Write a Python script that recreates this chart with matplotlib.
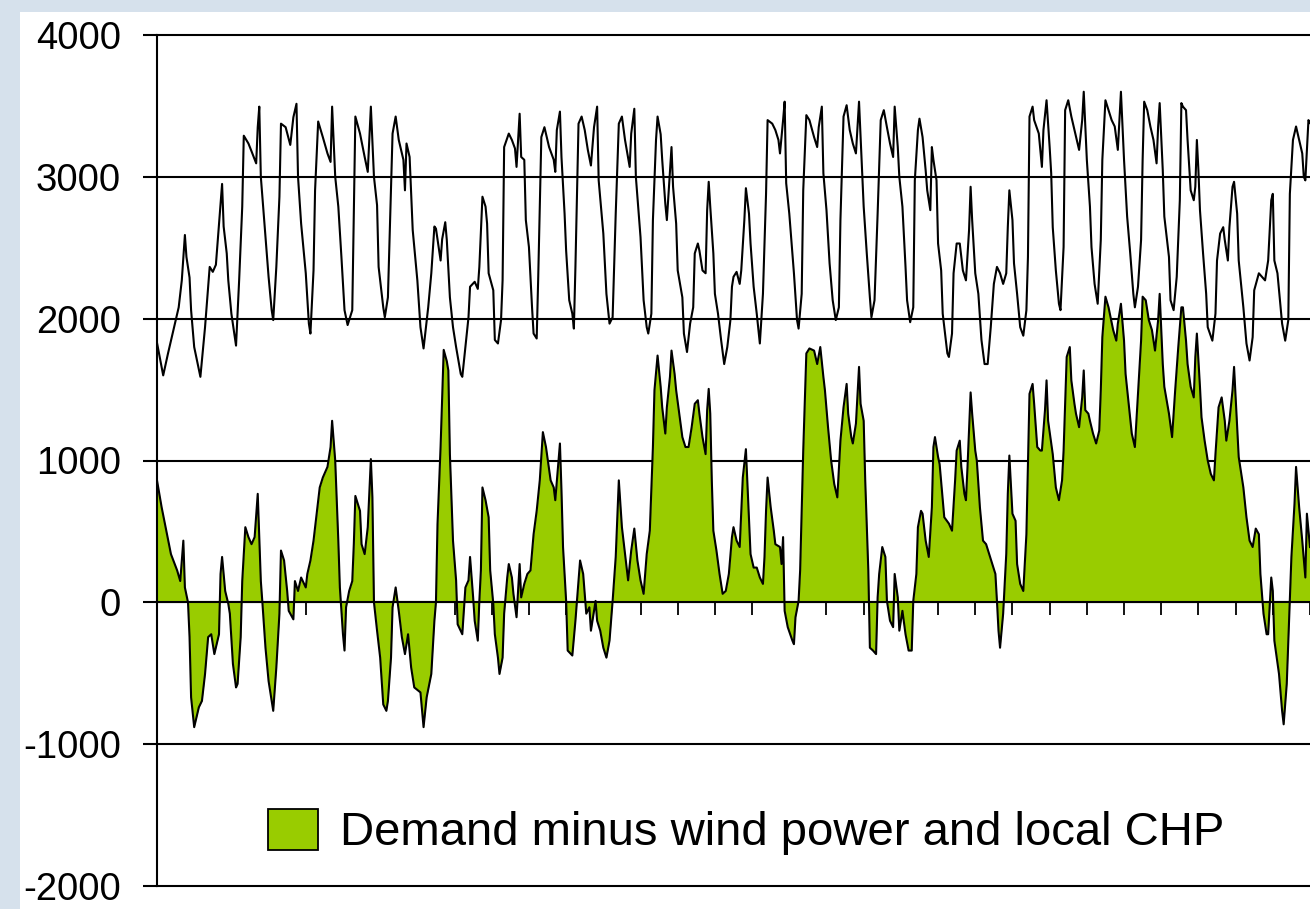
import numpy as np
import matplotlib
matplotlib.use("Agg")
import matplotlib.pyplot as plt
from matplotlib.patches import Patch, Rectangle

plt.rcParams["font.family"] = ["Liberation Sans", "DejaVu Sans"]
plt.rcParams["axes.unicode_minus"] = False

# ----------------------------------------------------------------------------
# readings: hour of the month (0..744) and MW
# ----------------------------------------------------------------------------
demand_h = [
    0, 4, 7, 11, 14, 16, 18, 19, 21, 22, 24, 28, 31, 33, 34, 36, 38, 41, 42, 43,
    45, 46, 48, 51, 53, 55, 56, 59, 61, 64, 65, 66, 67, 70, 72, 74, 75, 77, 79, 80,
    83, 86, 88, 90, 91, 93, 96, 98, 99, 101, 102, 104, 107, 110, 112, 113, 115, 117, 119, 121,
    123, 126, 127, 128, 131, 134, 136, 138, 140, 142, 143, 146, 147, 149, 151, 152, 154, 156, 159, 160,
    161, 163, 165, 168, 170, 172, 175, 177, 179, 180, 183, 184, 186, 187, 189, 191, 193, 196, 197, 199,
    201, 202, 205, 207, 208, 210, 212, 213, 214, 217, 218, 220, 222, 223, 224, 227, 229, 231, 232, 234,
    235, 237, 238, 240, 242, 243, 245, 246, 248, 250, 253, 256, 257, 258, 260, 261, 263, 264, 266, 268,
    269, 270, 272, 274, 276, 278, 280, 282, 284, 285, 288, 290, 292, 294, 296, 298, 300, 302, 305, 306,
    308, 309, 312, 314, 316, 317, 319, 320, 322, 323, 325, 326, 328, 329, 331, 332, 333, 335, 336, 339,
    340, 342, 344, 346, 347, 349, 350, 352, 354, 355, 356, 357, 359, 360, 362, 364, 366, 368, 370, 371,
    372, 374, 376, 377, 379, 380, 382, 383, 385, 387, 389, 391, 393, 394, 397, 399, 401, 402, 404, 405,
    406, 408, 411, 413, 414, 416, 417, 419, 421, 424, 426, 427, 429, 430, 432, 434, 436, 438, 440, 441,
    443, 445, 447, 449, 451, 452, 453, 455, 456, 458, 460, 461, 463, 465, 467, 469, 471, 473, 475, 476,
    478, 479, 481, 483, 484, 486, 488, 489, 491, 492, 494, 496, 497, 499, 500, 501, 503, 504, 506, 507,
    510, 511, 513, 514, 516, 518, 520, 522, 524, 525, 526, 528, 530, 532, 534, 536, 538, 540, 542, 544,
    546, 548, 549, 550, 552, 553, 555, 557, 559, 561, 562, 563, 565, 566, 569, 571, 572, 574, 576, 577,
    578, 580, 582, 583, 585, 586, 588, 590, 592, 595, 597, 598, 600, 602, 603, 605, 607, 609, 610, 612,
    614, 616, 618, 620, 621, 622, 624, 626, 628, 630, 631, 633, 635, 636, 637, 639, 641, 643, 645, 646,
    647, 649, 650, 653, 654, 656, 658, 660, 661, 662, 664, 665, 667, 669, 670, 671, 672, 673, 675, 677,
    678, 681, 683, 684, 686, 688, 689, 691, 692, 694, 695, 697, 698, 701, 703, 705, 707, 708, 711, 713,
    715, 717, 719, 720, 721, 723, 725, 726, 728, 730, 731, 733, 735, 737, 739, 740, 741, 743, 744,
]
demand_mw = [
    1830, 1600, 1750, 1940, 2080, 2270, 2590, 2435, 2290, 2060, 1800, 1590, 1940, 2220, 2365, 2330, 2380, 2810, 2950, 2650,
    2460, 2270, 2035, 1810, 2270, 2790, 3290, 3235, 3180, 3095, 3350, 3495, 3000, 2575, 2295, 2060, 1990, 2365, 2860, 3375,
    3350, 3225, 3420, 3515, 3000, 2670, 2320, 1965, 1895, 2340, 2905, 3390, 3280, 3165, 3105, 3495, 3000, 2790, 2435, 2060,
    1955, 2060, 2740, 3425, 3305, 3140, 3035, 3495, 3000, 2800, 2365, 2080, 2010, 2150, 2905, 3305, 3425, 3260, 3120, 2905,
    3235, 3140, 2625, 2270, 1940, 1790, 2080, 2320, 2650, 2635, 2410, 2560, 2680, 2555, 2150, 1940, 1800, 1610, 1590, 1800,
    2010, 2225, 2260, 2210, 2365, 2860, 2790, 2670, 2320, 2200, 1850, 1825, 1990, 2270, 3210, 3305, 3260, 3200, 3070, 3445,
    3140, 3120, 2695, 2505, 2080, 1895, 1860, 2295, 3280, 3350, 3210, 3120, 3035, 3330, 3460, 3140, 2740, 2480, 2130, 2035,
    1930, 2365, 3375, 3425, 3330, 3190, 3080, 3350, 3495, 2975, 2600, 2175, 1965, 2010, 2740, 3375, 3425, 3260, 3070, 3305,
    3480, 3000, 2575, 2130, 1940, 1895, 2035, 2695, 3260, 3425, 3300, 3120, 2810, 2695, 3045, 3210, 2930, 2670, 2340, 2150,
    1895, 1765, 1965, 2080, 2460, 2530, 2480, 2340, 2320, 2765, 2965, 2790, 2460, 2175, 2035, 1850, 1680, 1800, 1990, 2225,
    2295, 2330, 2245, 2340, 2695, 2920, 2740, 2530, 2225, 2035, 1825, 2175, 2880, 3400, 3375, 3330, 3260, 3165, 3400, 3530,
    2955, 2740, 2320, 1990, 1930, 2175, 2905, 3435, 3400, 3280, 3210, 3350, 3495, 3025, 2765, 2390, 2130, 1990, 2080, 2695,
    3425, 3505, 3330, 3235, 3165, 3350, 3530, 3025, 2790, 2460, 2150, 2010, 2130, 2740, 3400, 3470, 3350, 3235, 3140, 3495,
    3210, 3000, 2790, 2365, 2130, 1975, 2080, 2975, 3330, 3410, 3280, 3045, 2905, 2765, 3210, 3120, 2975, 2530, 2340, 2035,
    1755, 1730, 1895, 2320, 2530, 2530, 2340, 2270, 2625, 2930, 2695, 2320, 2175, 1850, 1680, 1680, 1940, 2245, 2365, 2320,
    2245, 2320, 2645, 2905, 2695, 2390, 2175, 1940, 1880, 2060, 2435, 3425, 3495, 3400, 3305, 3070, 3330, 3540, 3210, 3025,
    2645, 2340, 2105, 2060, 2505, 3470, 3540, 3425, 3330, 3190, 3400, 3600, 3120, 2790, 2505, 2245, 2105, 2555, 3120, 3540,
    3470, 3400, 3355, 3190, 3400, 3600, 3120, 2720, 2460, 2175, 2080, 2225, 2555, 3120, 3530, 3470, 3355, 3260, 3095, 3355,
    3520, 3045, 2720, 2435, 2130, 2060, 2295, 2835, 3520, 3495, 3470, 3260, 2905, 2835, 2930, 3260, 3045, 2765, 2460, 2175,
    1940, 1845, 2035, 2410, 2600, 2645, 2555, 2410, 2645, 2930, 2965, 2740, 2410, 2080, 1825, 1705, 1870, 2200, 2320, 2295,
    2270, 2410, 2835, 2880, 2410, 2320, 2080, 1965, 1845, 1990, 2880, 3260, 3355, 3260, 3165, 3000, 2975, 3400, 3380,
]

resid_h = [
    0, 3, 6, 9, 13, 15, 17, 18, 20, 21, 22, 24, 27, 29, 31, 33, 35, 37, 40, 41,
    42, 44, 46, 47, 49, 51, 52, 54, 55, 57, 59, 61, 63, 65, 67, 68, 70, 72, 75, 77,
    79, 80, 82, 84, 85, 88, 89, 91, 93, 96, 97, 99, 101, 103, 105, 107, 110, 112, 113, 115,
    117, 118, 120, 121, 122, 124, 126, 127, 128, 131, 132, 134, 136, 138, 139, 140, 142, 144, 146, 148,
    149, 151, 152, 154, 156, 158, 160, 162, 164, 166, 170, 172, 174, 177, 179, 180, 181, 183, 184, 185,
    187, 188, 189, 191, 193, 194, 197, 199, 201, 202, 204, 205, 207, 208, 209, 210, 212, 214, 215, 217,
    218, 220, 221, 223, 224, 226, 227, 229, 230, 232, 234, 235, 237, 239, 241, 243, 245, 247, 249, 251,
    254, 256, 257, 260, 261, 262, 264, 265, 268, 270, 272, 273, 275, 277, 279, 280, 283, 284, 286, 288,
    290, 292, 294, 296, 298, 300, 302, 304, 306, 308, 310, 312, 314, 316, 318, 320, 321, 323, 325, 326,
    328, 329, 331, 332, 334, 335, 337, 339, 341, 343, 345, 347, 349, 350, 352, 354, 355, 356, 357, 358,
    359, 361, 363, 365, 367, 369, 371, 372, 374, 376, 378, 380, 382, 383, 385, 387, 389, 391, 392, 393,
    394, 396, 398, 399, 402, 403, 404, 405, 407, 410, 411, 412, 414, 415, 417, 419, 421, 424, 426, 428,
    430, 431, 433, 435, 437, 439, 441, 443, 445, 446, 448, 449, 451, 453, 454, 456, 457, 459, 460, 462,
    464, 465, 466, 468, 470, 471, 473, 475, 476, 478, 479, 481, 483, 485, 487, 488, 490, 491, 493, 494,
    496, 498, 500, 501, 502, 504, 505, 507, 508, 511, 513, 515, 516, 518, 519, 521, 522, 523, 525, 526,
    528, 529, 531, 533, 535, 537, 539, 541, 542, 543, 544, 546, 548, 549, 550, 552, 554, 555, 557, 559,
    561, 563, 565, 566, 568, 570, 571, 573, 574, 575, 577, 578, 580, 582, 584, 585, 587, 589, 590, 592,
    593, 595, 597, 598, 599, 601, 602, 604, 606, 608, 609, 610, 612, 614, 617, 619, 620, 622, 624, 625,
    627, 629, 631, 633, 635, 636, 638, 640, 642, 644, 646, 647, 649, 650, 653, 655, 657, 659, 661, 662,
    664, 665, 667, 669, 670, 671, 673, 674, 676, 678, 680, 682, 683, 685, 687, 689, 690, 692, 694, 695,
    697, 698, 701, 703, 705, 707, 709, 711, 712, 714, 716, 717, 719, 720, 721, 724, 726, 727, 729, 731,
    732, 734, 735, 737, 739, 741, 742, 744,
]
resid_mw = [
    860, 670, 505, 340, 225, 150, 435, 105, 0, -245, -670, -880, -740, -695, -505, -245, -225, -365, -225, 200,
    320, 80, -10, -80, -435, -600, -575, -245, 150, 530, 460, 410, 460, 765, 150, 0, -320, -555, -765, -460,
    -80, 365, 295, 80, -60, -120, 150, 80, 175, 105, 200, 295, 435, 625, 810, 880, 955, 1095, 1280, 1000,
    435, 105, -225, -340, -35, 80, 150, 410, 750, 645, 410, 340, 530, 1010, 740, 0, -200, -390, -720, -765,
    -695, -390, -35, 105, -60, -245, -365, -225, -460, -600, -635, -880, -670, -505, -130, 0, 550, 1100, 1450, 1780,
    1700, 1635, 1045, 435, 155, -155, -225, 105, 155, 320, 35, -130, -270, 10, 225, 810, 720, 600, 225, -10,
    -225, -390, -505, -390, -80, 175, 270, 175, 60, -105, 270, 35, 130, 200, 225, 480, 645, 860, 1200, 1095,
    860, 810, 720, 1120, 790, 390, 10, -340, -375, -130, 155, 295, 200, -80, -35, -200, 10, -130, -200, -320,
    -390, -270, 10, 320, 860, 530, 340, 155, 365, 520, 295, 155, 60, 340, 505, 1095, 1495, 1740, 1520, 1375,
    1190, 1375, 1590, 1775, 1610, 1495, 1330, 1165, 1095, 1095, 1235, 1400, 1425, 1330, 1165, 1045, 1355, 1505, 1330, 860,
    505, 365, 200, 60, 80, 200, 460, 530, 435, 390, 880, 1080, 575, 340, 245, 245, 175, 130, 320, 645,
    880, 670, 505, 410, 390, 270, 460, -60, -175, -270, -295, -105, 10, 225, 1070, 1755, 1790, 1775, 1680, 1800,
    1590, 1495, 1235, 1000, 835, 740, 1140, 1375, 1540, 1330, 1165, 1120, 1260, 1660, 1400, 1280, 860, 225, -320, -340,
    -365, 35, 200, 390, 320, 10, -130, -175, 200, 35, -200, -60, -225, -340, -340, 10, 200, 530, 645, 625,
    435, 320, 670, 1095, 1165, 1025, 975, 720, 600, 555, 505, 860, 1070, 1140, 955, 765, 720, 955, 1480, 1330,
    1070, 1000, 670, 435, 410, 340, 270, 200, 10, -200, -320, -80, 340, 765, 1035, 625, 575, 270, 130, 80,
    480, 1470, 1540, 1400, 1095, 1070, 1070, 1355, 1565, 1280, 1120, 1045, 810, 720, 860, 1070, 1730, 1800, 1565, 1400,
    1330, 1235, 1445, 1635, 1355, 1330, 1280, 1190, 1120, 1210, 1495, 1870, 2155, 2080, 1920, 1845, 1965, 2105, 1845, 1610,
    1400, 1190, 1095, 1470, 1845, 2155, 2130, 1990, 1920, 1775, 1990, 2175, 1680, 1520, 1330, 1165, 1495, 1800, 2080, 2080,
    1845, 1680, 1520, 1445, 1730, 1895, 1520, 1305, 1140, 1000, 905, 860, 1045, 1375, 1445, 1280, 1140, 1280, 1495, 1660,
    1235, 1025, 810, 600, 435, 390, 520, 480, 200, -80, -225, -225, 175, 80, -270, -505, -765, -860, -575, 10,
    320, 695, 955, 670, 435, 175, 625, 390,
]

y_ticks = [-2000, -1000, 0, 1000, 2000, 3000, 4000]
day_ticks = list(range(0, 745, 24))
legend_label = "Demand minus wind power and local CHP"

BG = "#d6e1ec"
GREEN = "#99cc00"
W, H = 1310, 909

fig = plt.figure(figsize=(W / 100, H / 100), dpi=100, facecolor=BG)
fig.patches.append(Rectangle((20 / W, 0), 1, 1 - 12 / H, transform=fig.transFigure,
                             facecolor="white", edgecolor="none", zorder=-1))
ax = fig.add_axes([157 / W, 1 - 886 / H, 1153 / W, 851 / H])
ax.set_facecolor("white")

ax.fill_between(resid_h, resid_mw, 0, color=GREEN, lw=0, zorder=1)
ax.plot(resid_h, resid_mw, color="black", lw=1.5, zorder=2)
ax.plot(demand_h, demand_mw, color="black", lw=1.5, zorder=2)

ax.set_xlim(0, 744)
ax.set_ylim(-2000, 4000)
ax.set_yticks(y_ticks)
ax.set_yticklabels([str(t) for t in y_ticks])
ax.set_xticks(day_ticks)
ax.yaxis.grid(True, color="black", lw=1.5)
for gl in ax.get_ygridlines():
    gl.set_clip_on(False)
ax.set_axisbelow(True)

for s in ("top", "right"):
    ax.spines[s].set_visible(False)
ax.spines["left"].set_linewidth(1.5)
ax.spines["bottom"].set_position(("data", 0))
ax.spines["bottom"].set_linewidth(1.5)
ax.tick_params(axis="x", direction="out", length=9, width=1.3, labelbottom=False)
ax.tick_params(axis="y", direction="out", length=10, width=1.5, pad=16, labelsize=27.5)

handle = Patch(facecolor=GREEN, edgecolor="black", lw=1.3)
ax.legend([handle], [legend_label], loc="center left", bbox_to_anchor=(111 / 1153, 54 / 851),
          frameon=False, fontsize=34, handlelength=1.06, handleheight=0.96,
          handletextpad=0.47, borderpad=0, borderaxespad=0)

fig.savefig("out.png", dpi=100, facecolor=BG)
